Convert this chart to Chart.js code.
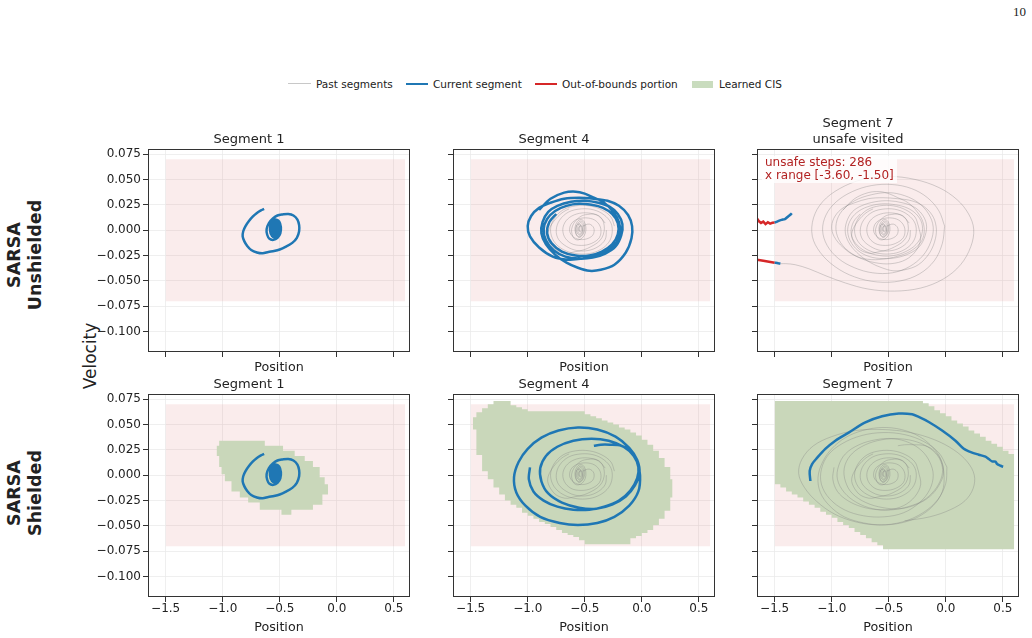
<!DOCTYPE html>
<html>
<head>
<meta charset="utf-8">
<script src="https://cdn.jsdelivr.net/npm/chart.js@4.4.1/dist/chart.umd.min.js"></script>
<style>
html, body { margin: 0; padding: 0; background: #fff; }
#fig { position: relative; width: 1032px; height: 638px; overflow: hidden; font-family: "DejaVu Sans", sans-serif; color: #222; }
#fig canvas { position: absolute; }
.abs { position: absolute; white-space: nowrap; }
.lg-text { font-size: 10.5px; line-height: 12px; top: 78px; }
.rot { transform: rotate(-90deg); text-align: center; }
</style>
</head>
<body>
<div id="fig">
  <div class="abs" style="left:1013px;top:4px;font:13px/15px 'Liberation Serif',serif;">10</div>

  <div class="abs" style="left:288px;top:83px;width:23px;border-top:1.5px solid #c8c8c8;"></div>
  <div class="abs lg-text" style="left:316px;">Past segments</div>
  <div class="abs" style="left:406px;top:82.5px;width:22px;border-top:2.5px solid #1f77b4;"></div>
  <div class="abs lg-text" style="left:433px;">Current segment</div>
  <div class="abs" style="left:535px;top:82.5px;width:22px;border-top:2.5px solid #d62728;"></div>
  <div class="abs lg-text" style="left:562px;">Out-of-bounds portion</div>
  <div class="abs" style="left:692px;top:80.5px;width:21px;height:7px;background:rgb(201,220,190);"></div>
  <div class="abs lg-text" style="left:719px;">Learned CIS</div>

  <div class="abs rot" style="left:-45px;top:234px;width:140px;height:42px;font:bold 17.5px/21px 'DejaVu Sans',sans-serif;">SARSA<br>Unshielded</div>
  <div class="abs rot" style="left:-45px;top:472px;width:140px;height:42px;font:bold 17.5px/21px 'DejaVu Sans',sans-serif;">SARSA<br>Shielded</div>
  <div class="abs rot" style="left:39.5px;top:346px;width:100px;height:20px;font:17px/20px 'DejaVu Sans',sans-serif;">Velocity</div>

  <canvas id="p0"></canvas>
  <canvas id="p1"></canvas>
  <canvas id="p2"></canvas>
  <canvas id="p3"></canvas>
  <canvas id="p4"></canvas>
  <canvas id="p5"></canvas>

  <div class="abs" style="left:762px;top:156px;padding:0 3px;font:12px/13.3px 'DejaVu Sans',sans-serif;color:#b22222;background:rgba(255,255,255,0.8);">unsafe steps: 286<br>x range [-3.60, -1.50]</div>
</div>
<script>
// axes
const X_TICKS = [-1.5, -1.0, -0.5, 0.0, 0.5];
const Y_TICKS = [-0.100, -0.075, -0.050, -0.025, 0.000, 0.025, 0.050, 0.075];
const X_LIMITS = [-1.655, 0.642];
const Y_LIMITS = [-0.12, 0.08];
const SAFE_X = [-1.5, 0.6];
const SAFE_Y = [-0.07, 0.07];
const TITLES = [["Segment 1"], ["Segment 4"], ["Segment 7", "unsafe visited"], ["Segment 1"], ["Segment 4"], ["Segment 7"]];

// trajectories (position, velocity)
const SEG1_PATH = [
  [-0.637, 0.021], [-0.665, 0.0195], [-0.70, 0.017], [-0.735, 0.0135], [-0.77, 0.009], [-0.80, 0.004],
  [-0.82, -0.001], [-0.825, -0.006], [-0.81, -0.011], [-0.785, -0.0155], [-0.75, -0.0195], [-0.70, -0.022],
  [-0.65, -0.0228], [-0.60, -0.0215], [-0.55, -0.0205], [-0.50, -0.019], [-0.45, -0.0165], [-0.39, -0.0125],
  [-0.35, -0.0075], [-0.33, -0.001], [-0.33, 0.005], [-0.345, 0.0105], [-0.38, 0.0145], [-0.425, 0.016],
  [-0.475, 0.0155], [-0.52, 0.0145], [-0.56, 0.0115], [-0.595, 0.007], [-0.615, 0.001], [-0.61, -0.0045],
  [-0.59, -0.0085], [-0.555, -0.0095], [-0.52, -0.0075], [-0.495, -0.003], [-0.49, 0.003], [-0.505, 0.0085],
  [-0.535, 0.0105], [-0.565, 0.0085], [-0.585, 0.003], [-0.58, -0.003], [-0.555, -0.0065], [-0.525, -0.005],
  [-0.51, 0.0], [-0.515, 0.0055], [-0.54, 0.0075], [-0.56, 0.004], [-0.56, -0.001], [-0.545, -0.004],
  [-0.525, -0.002], [-0.52, 0.003], [-0.535, 0.0055], [-0.55, 0.002], [-0.54, -0.002], [-0.53, 0.001],
  [-0.545, 0.006], [-0.57, 0.005], [-0.58, 0.0], [-0.57, -0.005], [-0.545, -0.007], [-0.515, -0.004],
  [-0.50, 0.001], [-0.51, 0.007], [-0.535, 0.009], [-0.56, 0.007], [-0.575, 0.002], [-0.565, -0.003],
  [-0.54, -0.005], [-0.52, -0.001], [-0.53, 0.004], [-0.55, 0.003], [-0.55, -0.001]
];
const SEG2_PAST = [
  [-0.52, 0.004], [-0.46, 0.006], [-0.42, 0.002], [-0.43, -0.005], [-0.50, -0.009], [-0.58, -0.008],
  [-0.63, -0.002], [-0.62, 0.006], [-0.56, 0.011], [-0.47, 0.012], [-0.40, 0.009], [-0.36, 0.002],
  [-0.37, -0.007], [-0.44, -0.013], [-0.53, -0.015], [-0.62, -0.013], [-0.68, -0.006], [-0.69, 0.003],
  [-0.65, 0.011], [-0.57, 0.016], [-0.47, 0.017], [-0.38, 0.014], [-0.32, 0.007]
];
const SEG3_PAST = [
  [-0.31, 0.0], [-0.32, -0.009], [-0.38, -0.016], [-0.47, -0.020], [-0.57, -0.020], [-0.66, -0.016],
  [-0.73, -0.009], [-0.75, 0.0], [-0.72, 0.010], [-0.64, 0.018], [-0.53, 0.021], [-0.42, 0.020],
  [-0.33, 0.015], [-0.27, 0.007], [-0.26, -0.003], [-0.29, -0.012], [-0.36, -0.019], [-0.46, -0.023],
  [-0.58, -0.023], [-0.69, -0.019], [-0.77, -0.011], [-0.80, 0.0], [-0.77, 0.011], [-0.69, 0.020],
  [-0.58, 0.024], [-0.46, 0.024], [-0.35, 0.020], [-0.27, 0.013], [-0.24, 0.004]
];
const SEG4_UNSH_PATH = [
  [-0.90, 0.020], [-0.80, 0.031], [-0.68, 0.037], [-0.58, 0.038], [-0.50, 0.036], [-0.42, 0.032],
  [-0.33, 0.027], [-0.25, 0.018], [-0.20, 0.008], [-0.19, -0.003], [-0.22, -0.012], [-0.30, -0.020],
  [-0.40, -0.025], [-0.52, -0.028], [-0.65, -0.029], [-0.78, -0.026], [-0.90, -0.017], [-0.98, -0.006],
  [-1.00, 0.004], [-0.97, 0.014], [-0.90, 0.022], [-0.80, 0.027], [-0.68, 0.031], [-0.55, 0.032],
  [-0.42, 0.031], [-0.30, 0.029], [-0.20, 0.024], [-0.12, 0.015], [-0.085, 0.004], [-0.09, -0.008],
  [-0.14, -0.022], [-0.24, -0.034], [-0.36, -0.039], [-0.46, -0.040], [-0.56, -0.037], [-0.66, -0.032],
  [-0.76, -0.024], [-0.84, -0.014], [-0.88, -0.003], [-0.87, 0.008], [-0.82, 0.018], [-0.74, 0.024],
  [-0.62, 0.028], [-0.50, 0.029], [-0.38, 0.027], [-0.28, 0.023], [-0.21, 0.016], [-0.17, 0.006],
  [-0.18, -0.005], [-0.23, -0.016], [-0.32, -0.023], [-0.43, -0.027], [-0.55, -0.028], [-0.67, -0.026],
  [-0.77, -0.020], [-0.84, -0.010], [-0.86, 0.001], [-0.83, 0.011], [-0.76, 0.019], [-0.66, 0.024],
  [-0.55, 0.026], [-0.44, 0.025], [-0.34, 0.022], [-0.26, 0.016], [-0.21, 0.007], [-0.21, -0.004],
  [-0.26, -0.014], [-0.35, -0.021], [-0.46, -0.025], [-0.58, -0.025], [-0.70, -0.021], [-0.79, -0.013],
  [-0.83, -0.003], [-0.81, 0.008], [-0.75, 0.016]
];
const SEG4_SH_PATH = [
  [-0.98, 0.0077], [-0.99, -0.004], [-0.95, -0.016], [-0.86, -0.025], [-0.74, -0.031], [-0.60, -0.034],
  [-0.46, -0.034], [-0.33, -0.031], [-0.20, -0.025], [-0.10, -0.015], [-0.04, -0.003], [-0.03, 0.008],
  [-0.07, 0.019], [-0.16, 0.028], [-0.29, 0.034], [-0.44, 0.036], [-0.60, 0.034], [-0.74, 0.028],
  [-0.84, 0.019], [-0.89, 0.007], [-0.88, -0.006], [-0.82, -0.018], [-0.70, -0.027], [-0.55, -0.032],
  [-0.40, -0.033], [-0.26, -0.029], [-0.14, -0.021], [-0.06, -0.010], [-0.02, 0.002], [-0.04, 0.015],
  [-0.11, 0.027], [-0.23, 0.038], [-0.39, 0.045], [-0.56, 0.047], [-0.73, 0.044], [-0.88, 0.037],
  [-1.00, 0.026], [-1.08, 0.013], [-1.12, -0.002], [-1.10, -0.017], [-1.02, -0.030], [-0.89, -0.041],
  [-0.72, -0.047], [-0.56, -0.049], [-0.39, -0.047], [-0.24, -0.041], [-0.11, -0.030], [-0.03, -0.016],
  [-0.015, 0.0], [-0.04, 0.014], [-0.10, 0.024], [-0.18, 0.029], [-0.28, 0.030], [-0.36, 0.030], [-0.42, 0.029]
];
const SEG5_UNSH_PAST = [
  [-0.24, 0.004], [-0.22, -0.008], [-0.26, -0.020], [-0.35, -0.029], [-0.48, -0.033], [-0.62, -0.032],
  [-0.76, -0.027], [-0.88, -0.018], [-0.95, -0.006], [-0.96, 0.007], [-0.91, 0.019], [-0.80, 0.029],
  [-0.65, 0.035], [-0.50, 0.037], [-0.36, 0.034], [-0.24, 0.027], [-0.15, 0.016], [-0.11, 0.003],
  [-0.13, -0.011], [-0.20, -0.025], [-0.32, -0.036], [-0.47, -0.042], [-0.64, -0.042], [-0.80, -0.037],
  [-0.94, -0.028], [-1.04, -0.015], [-1.08, 0.0], [-1.05, 0.015], [-0.96, 0.028], [-0.82, 0.038],
  [-0.65, 0.044], [-0.47, 0.045], [-0.30, 0.041], [-0.16, 0.032], [-0.06, 0.019], [-0.01, 0.004]
];
const SEG6_UNSH_PAST = [
  [-0.01, 0.004], [-0.03, -0.013], [-0.10, -0.030], [-0.23, -0.043], [-0.40, -0.050], [-0.60, -0.051],
  [-0.80, -0.046], [-0.97, -0.036], [-1.10, -0.022], [-1.17, -0.006], [-1.16, 0.012], [-1.08, 0.028],
  [-0.93, 0.041], [-0.73, 0.050], [-0.50, 0.053], [-0.27, 0.050], [-0.06, 0.042], [0.10, 0.030],
  [0.20, 0.016], [0.245, 0.001], [0.22, -0.016], [0.13, -0.034], [-0.02, -0.048], [-0.22, -0.057],
  [-0.45, -0.060], [-0.68, -0.058], [-0.88, -0.052], [-1.05, -0.045], [-1.20, -0.038], [-1.32, -0.034],
  [-1.40, -0.033], [-1.45, -0.033]
];
const SEG7_UNSH_RED_A = [
  [-1.72, 0.012], [-1.655, 0.0115], [-1.64, 0.009], [-1.62, 0.0072], [-1.60, 0.0085], [-1.58, 0.006],
  [-1.56, 0.0078], [-1.54, 0.0065], [-1.52, 0.0073], [-1.50, 0.0075]
];
const SEG7_UNSH_BLUE_A = [
  [-1.50, 0.0075], [-1.47, 0.009], [-1.44, 0.0102], [-1.41, 0.011], [-1.38, 0.0138], [-1.36, 0.0155], [-1.35, 0.0167]
];
const SEG7_UNSH_RED_B = [[-1.72, -0.029], [-1.655, -0.029], [-1.60, -0.030], [-1.55, -0.031], [-1.50, -0.032]];
const SEG7_UNSH_BLUE_B = [[-1.50, -0.032], [-1.47, -0.0325], [-1.45, -0.033]];
const SEG5_SH_PAST = [
  [-0.24, 0.004], [-0.22, -0.009], [-0.27, -0.021], [-0.37, -0.030], [-0.50, -0.034], [-0.64, -0.033],
  [-0.78, -0.027], [-0.89, -0.017], [-0.95, -0.004], [-0.94, 0.009], [-0.88, 0.021], [-0.76, 0.030],
  [-0.61, 0.035], [-0.46, 0.036], [-0.32, 0.032], [-0.21, 0.024], [-0.14, 0.013], [-0.11, 0.0],
  [-0.14, -0.014], [-0.23, -0.027], [-0.37, -0.037], [-0.54, -0.041], [-0.72, -0.040], [-0.89, -0.034],
  [-1.02, -0.023], [-1.09, -0.009], [-1.09, 0.006], [-1.03, 0.020], [-0.91, 0.031], [-0.74, 0.039],
  [-0.55, 0.042], [-0.36, 0.040], [-0.19, 0.033], [-0.06, 0.022], [0.01, 0.008]
];
const SEG6_SH_PAST = [
  [0.01, 0.008], [0.0, -0.008], [-0.07, -0.024], [-0.20, -0.037], [-0.38, -0.046], [-0.58, -0.049],
  [-0.79, -0.046], [-0.98, -0.038], [-1.13, -0.026], [-1.24, -0.012], [-1.29, 0.002], [-1.26, 0.016],
  [-1.16, 0.029], [-1.00, 0.038], [-0.79, 0.044], [-0.55, 0.045], [-0.31, 0.042], [-0.10, 0.035],
  [0.07, 0.025], [0.19, 0.013], [0.25, 0.0], [0.24, -0.013], [0.17, -0.025], [0.04, -0.034],
  [-0.14, -0.041], [-0.36, -0.045]
];
const SEG7_SH_PATH = [
  [-1.187, -0.0057], [-1.193, 0.0043], [-1.172, 0.011], [-1.129, 0.017], [-1.056, 0.0259], [-0.968, 0.034],
  [-0.851, 0.042], [-0.705, 0.052], [-0.558, 0.058], [-0.412, 0.0607], [-0.295, 0.060], [-0.237, 0.0574],
  [-0.149, 0.0524], [-0.032, 0.044], [0.085, 0.034], [0.158, 0.026], [0.202, 0.0235], [0.289, 0.0202],
  [0.348, 0.0182], [0.377, 0.0159], [0.406, 0.0136], [0.436, 0.0133], [0.450, 0.011], [0.480, 0.0093], [0.503, 0.0083]
];

// learned CIS cells: column start, upper edge, lower edge
const CIS1_X = [-1.054, -1.031, -1.010, -0.981, -0.923, -0.850, -0.777, -0.675, -0.631, -0.485, -0.471, -0.398, -0.369, -0.281, -0.209, -0.150, -0.126, -0.106, -0.077];
const CIS1_TOP = [0.029, 0.034, 0.034, 0.034, 0.034, 0.034, 0.034, 0.034, 0.029, 0.029, 0.024, 0.024, 0.019, 0.014, 0.008, -0.002, -0.002, -0.009, -0.009];
const CIS1_BOT = [0.019, 0.008, 0.001, -0.006, -0.016, -0.022, -0.027, -0.034, -0.034, -0.039, -0.039, -0.034, -0.034, -0.034, -0.029, -0.029, -0.019, -0.019, -0.019];
const CIS4_X = [-1.48, -1.45, -1.40, -1.35, -1.30, -1.25, -1.20, -1.15, -1.10, -1.05, -1.00, -0.95, -0.90, -0.85, -0.80, -0.75, -0.70, -0.65, -0.60, -0.55, -0.50, -0.45, -0.40, -0.35, -0.30, -0.25, -0.20, -0.15, -0.10, -0.05, 0.00, 0.05, 0.10, 0.15, 0.20, 0.25, 0.27];
const CIS4_TOP = [0.057, 0.062, 0.066, 0.070, 0.073, 0.073, 0.073, 0.069, 0.067, 0.065, 0.063, 0.063, 0.063, 0.063, 0.063, 0.063, 0.063, 0.063, 0.063, 0.063, 0.060, 0.058, 0.056, 0.054, 0.052, 0.050, 0.047, 0.045, 0.042, 0.039, 0.035, 0.030, 0.024, 0.017, 0.008, -0.004, -0.004];
const CIS4_BOT = [0.045, 0.020, 0.004, -0.004, -0.012, -0.019, -0.025, -0.029, -0.032, -0.037, -0.040, -0.043, -0.046, -0.048, -0.051, -0.054, -0.057, -0.059, -0.061, -0.064, -0.068, -0.068, -0.068, -0.068, -0.068, -0.068, -0.068, -0.068, -0.062, -0.060, -0.057, -0.054, -0.049, -0.043, -0.035, -0.022, -0.022];
const CIS7_X = [-1.50, -1.45, -1.40, -1.35, -1.30, -1.25, -1.20, -1.15, -1.10, -1.05, -1.00, -0.95, -0.90, -0.85, -0.80, -0.75, -0.70, -0.65, -0.60, -0.55, -0.50, -0.45, -0.40, -0.35, -0.30, -0.25, -0.20, -0.15, -0.10, -0.05, 0.00, 0.05, 0.10, 0.15, 0.20, 0.25, 0.30, 0.35, 0.40, 0.45, 0.50, 0.55, 0.60];
const CIS7_TOP = [0.073, 0.073, 0.073, 0.073, 0.073, 0.073, 0.073, 0.073, 0.073, 0.073, 0.073, 0.073, 0.073, 0.073, 0.073, 0.073, 0.073, 0.073, 0.073, 0.073, 0.073, 0.073, 0.073, 0.073, 0.073, 0.073, 0.071, 0.068, 0.064, 0.061, 0.058, 0.054, 0.051, 0.048, 0.044, 0.041, 0.038, 0.034, 0.031, 0.028, 0.024, 0.021, 0.021];
const CIS7_BOT = [-0.009, -0.012, -0.016, -0.019, -0.022, -0.026, -0.029, -0.032, -0.036, -0.039, -0.042, -0.046, -0.049, -0.052, -0.056, -0.059, -0.062, -0.066, -0.069, -0.073, -0.073, -0.073, -0.073, -0.073, -0.073, -0.073, -0.073, -0.073, -0.073, -0.073, -0.073, -0.073, -0.073, -0.073, -0.073, -0.073, -0.073, -0.073, -0.073, -0.073, -0.073, -0.073, -0.073];

const BLUE = "#1f77b4";
const RED = "#d62728";
const GRAY = "rgba(128,128,128,0.35)";
const GREEN = "rgb(201,215,186)";
const PINK = "rgba(220,110,110,0.13)";
const NONE = "rgba(0,0,0,0)";

// layout in page pixels
const COL_LEFT = [148, 453, 757];
const ROW_TOP = [149, 394];
const FRAME_W = 262;
const FRAME_H = 203;
const YW = 60;
const TH = 42;
const RP = 8;
const XH = [23, 38];

Chart.defaults.font.family = "'DejaVu Sans', sans-serif";
Chart.defaults.color = "#222";

const fmt = (v, d) => v.toFixed(d).replace("-", "\u2212");
const pts = (arr) => arr.map(([x, y]) => ({ x, y }));

function safeSet() {
  return {
    data: [{ x: SAFE_X[0], y: SAFE_Y[1] }, { x: SAFE_X[1], y: SAFE_Y[1] }],
    borderColor: NONE, borderWidth: 0, pointRadius: 0,
    fill: { value: SAFE_Y[0] }, backgroundColor: PINK, order: 10,
  };
}
function cisSets(xs, top, bot) {
  return [
    { data: xs.map((x, i) => ({ x, y: top[i] })), stepped: true, borderColor: NONE, borderWidth: 0,
      pointRadius: 0, fill: "+1", backgroundColor: GREEN, order: 9 },
    { data: xs.map((x, i) => ({ x, y: bot[i] })), stepped: true, borderColor: NONE, borderWidth: 0,
      pointRadius: 0, fill: false, order: 9 },
  ];
}
function lineSet(arr, color, width, order, tension) {
  return { data: pts(arr), borderColor: color, borderWidth: width, pointRadius: 0,
    fill: false, tension: tension, order: order };
}
const past = (arr) => lineSet(arr, GRAY, 1, 5, 0.35);
const current = (arr) => lineSet(arr, BLUE, 2.5, 1, 0.3);
const outside = (arr) => lineSet(arr, RED, 2.5, 2, 0);

const framePlugin = {
  id: "frame",
  afterDraw(chart) {
    const { ctx, chartArea: a } = chart;
    ctx.save();
    ctx.strokeStyle = "#333";
    ctx.lineWidth = 1;
    ctx.strokeRect(a.left + 0.5, a.top + 0.5, a.width - 1, a.height - 1);
    ctx.restore();
  },
};

function panel(id, col, row, title, datasets) {
  const cv = document.getElementById(id);
  cv.width = YW + FRAME_W + RP;
  cv.height = TH + FRAME_H + XH[row];
  cv.style.left = (COL_LEFT[col] - YW) + "px";
  cv.style.top = (ROW_TOP[row] - TH) + "px";
  const grid = { color: "#ebebeb", lineWidth: 0.8, tickColor: "#333", tickWidth: 1, tickLength: 5 };
  new Chart(cv, {
    type: "line",
    data: { datasets },
    plugins: [framePlugin],
    options: {
      responsive: false,
      animation: false,
      events: [],
      layout: { padding: { left: 0, right: RP, top: 0, bottom: 0 } },
      plugins: {
        legend: { display: false },
        tooltip: { enabled: false },
        title: {
          display: true, text: title, color: "#222",
          font: { size: 13, weight: "normal" },
          padding: { top: TH - title.length * 15.6 - 2, bottom: 2 },
        },
      },
      scales: {
        x: {
          type: "linear", min: X_LIMITS[0], max: X_LIMITS[1],
          afterBuildTicks: (axis) => { axis.ticks = X_TICKS.map((v) => ({ value: v })); },
          afterFit: (scale) => { scale.height = XH[row]; },
          grid, border: { display: false },
          ticks: { display: row === 1, font: { size: 12 }, color: "#222", padding: 0,
            maxRotation: 0, autoSkip: false, callback: (v) => fmt(v, 1) },
          title: { display: true, text: "Position", font: { size: 12.7 }, color: "#222", padding: 0 },
        },
        y: {
          type: "linear", min: Y_LIMITS[0], max: Y_LIMITS[1],
          afterBuildTicks: (axis) => { axis.ticks = Y_TICKS.map((v) => ({ value: v })); },
          afterFit: (scale) => { scale.width = YW; },
          grid, border: { display: false },
          ticks: { display: col === 0, font: { size: 12 }, color: "#222", padding: 2,
            autoSkip: false, callback: (v) => fmt(v, 3) },
        },
      },
    },
  });
}

panel("p0", 0, 0, TITLES[0], [safeSet(), current(SEG1_PATH)]);
panel("p1", 1, 0, TITLES[1], [safeSet(), past(SEG1_PATH), past(SEG2_PAST), past(SEG3_PAST), current(SEG4_UNSH_PATH)]);
panel("p2", 2, 0, TITLES[2], [
  safeSet(), past(SEG1_PATH), past(SEG2_PAST), past(SEG3_PAST), past(SEG4_UNSH_PATH),
  past(SEG5_UNSH_PAST), past(SEG6_UNSH_PAST),
  outside(SEG7_UNSH_RED_A), outside(SEG7_UNSH_RED_B), current(SEG7_UNSH_BLUE_A), current(SEG7_UNSH_BLUE_B),
]);
panel("p3", 0, 1, TITLES[3], [safeSet(), ...cisSets(CIS1_X, CIS1_TOP, CIS1_BOT), current(SEG1_PATH)]);
panel("p4", 1, 1, TITLES[4], [safeSet(), ...cisSets(CIS4_X, CIS4_TOP, CIS4_BOT),
  past(SEG1_PATH), past(SEG2_PAST), past(SEG3_PAST), current(SEG4_SH_PATH)]);
panel("p5", 2, 1, TITLES[5], [safeSet(), ...cisSets(CIS7_X, CIS7_TOP, CIS7_BOT),
  past(SEG1_PATH), past(SEG2_PAST), past(SEG3_PAST), past(SEG4_SH_PATH), past(SEG5_SH_PAST), past(SEG6_SH_PAST),
  current(SEG7_SH_PATH)]);
</script>
</body>
</html>
